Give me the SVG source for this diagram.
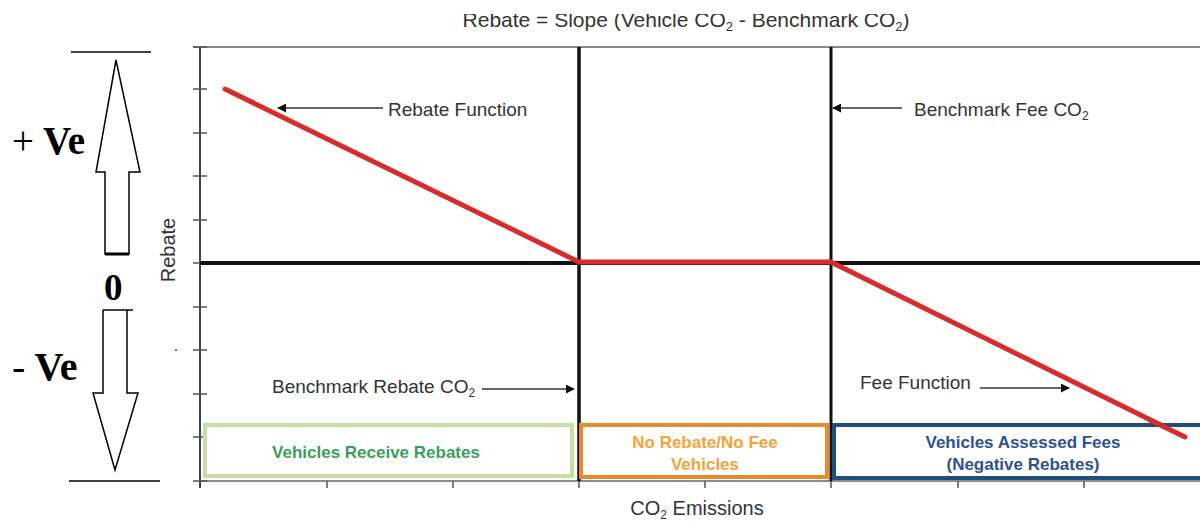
<svg xmlns="http://www.w3.org/2000/svg" width="1200" height="521" viewBox="0 0 1200 521">
<style>
.t{font-family:"Liberation Sans",Arial,sans-serif;fill:#333;font-size:19px}
.big{font-family:"Liberation Serif","Times New Roman",serif;font-weight:bold;font-size:39px;fill:#000}
.lbl{font-family:"Liberation Sans",Arial,sans-serif;font-weight:bold;font-size:17px;text-anchor:middle}
.sub{font-size:12px}
.ax{stroke:#444;stroke-width:2;fill:none}
.tk{stroke:#555;stroke-width:1.5}
.red{stroke:#d92b2b;stroke-width:5;fill:none;stroke-linecap:round}
.ptr{stroke:#333;stroke-width:1.3;fill:none;marker-end:url(#ah)}
</style>
<defs>
<marker id="ah" viewBox="0 0 10 10" refX="9" refY="5" markerWidth="9" markerHeight="9" markerUnits="userSpaceOnUse" orient="auto">
<path d="M0,0L10,5L0,10z" fill="#111"/>
</marker>
<clipPath id="topclip"><rect x="0" y="14" width="1200" height="30"/></clipPath>
</defs>
<rect width="1200" height="521" fill="#fff"/>

<g id="scale-indicator">
<line x1="71" y1="52" x2="151" y2="52" stroke="#000" stroke-width="1.5"/>
<path d="M116,60 L140,172 L129,172 L129,254 L105,254 L105,172 L96,172 Z" fill="#fff" stroke="#000" stroke-width="1.5" stroke-linejoin="miter"/>
<line x1="105" y1="254" x2="129" y2="254" stroke="#000" stroke-width="3"/>
<text x="12" y="154" class="big"><tspan font-weight="normal">+</tspan> Ve</text>
<text x="104" y="300" class="big" style="font-size:37px">0</text>
<path d="M103,310 L133,310 M127,310 L127,393 L138,393 L115,470 L93,393 L103,393 L103,310" fill="#fff" stroke="#000" stroke-width="1.5"/>
<line x1="69" y1="481" x2="160" y2="481" stroke="#000" stroke-width="1.5"/>
<text x="12" y="380" class="big" style="font-size:40px"><tspan font-weight="normal">-</tspan> Ve</text>
</g>

<g id="chart-axes">
<line x1="193" y1="47" x2="1200" y2="47" stroke="#888" stroke-width="2"/>
<line x1="200" y1="47" x2="200" y2="488" class="ax"/>
<line x1="200" y1="481" x2="1200" y2="481" stroke="#666" stroke-width="1.5"/>
<g class="tk">
<line x1="193" y1="47" x2="207" y2="47"/>
<line x1="193" y1="89" x2="207" y2="89"/>
<line x1="193" y1="133" x2="207" y2="133"/>
<line x1="193" y1="176" x2="207" y2="176"/>
<line x1="193" y1="220" x2="207" y2="220"/>
<line x1="193" y1="263" x2="207" y2="263"/>
<line x1="193" y1="307" x2="207" y2="307"/>
<line x1="193" y1="350" x2="207" y2="350"/>
<line x1="193" y1="394" x2="207" y2="394"/>
<line x1="193" y1="437" x2="207" y2="437"/>
<line x1="193" y1="481" x2="207" y2="481"/>
<line x1="327" y1="481" x2="327" y2="488"/>
<line x1="453" y1="481" x2="453" y2="488"/>
<line x1="579" y1="481" x2="579" y2="488"/>
<line x1="705" y1="481" x2="705" y2="488"/>
<line x1="831" y1="481" x2="831" y2="488"/>
<line x1="958" y1="481" x2="958" y2="488"/>
<line x1="1084" y1="481" x2="1084" y2="488"/>
</g>
<circle cx="176" cy="350" r="0.9" fill="#333"/>
<text class="t" transform="translate(175,250) rotate(-90)" text-anchor="middle" style="font-size:20px">Rebate</text>
<text class="t" x="697" y="515" text-anchor="middle" style="font-size:20px">CO<tspan class="sub" dy="4">2</tspan><tspan dy="-4"> Emissions</tspan></text>
<text class="t" x="686" y="27" text-anchor="middle" style="font-size:21px" clip-path="url(#topclip)">Rebate = Slope (Vehicle CO<tspan style="font-size:13px" dy="4">2</tspan><tspan dy="-4"> - Benchmark CO</tspan><tspan style="font-size:13px" dy="4">2</tspan><tspan dy="-4">)</tspan></text>
</g>

<g id="benchmark-lines">
<line x1="200" y1="263" x2="1200" y2="263" stroke="#111" stroke-width="4"/>
<line x1="579" y1="47" x2="579" y2="481" stroke="#111" stroke-width="3.5"/>
<line x1="831" y1="47" x2="831" y2="481" stroke="#111" stroke-width="3"/>
</g>

<g id="functions">
<polyline points="225,89 579,262 831,262 1185,437" class="red"/>
</g>

<g id="box-rebates">
<rect x="205" y="425" width="367" height="51" fill="#fff" stroke="#c6e0a4" stroke-width="4"/>
<text class="lbl" x="376" y="458" fill="#3a9e5a">Vehicles Receive Rebates</text>
</g>
<g id="box-neutral">
<rect x="581" y="425" width="246" height="52" fill="#fff" stroke="#e88a2c" stroke-width="4"/>
<text class="lbl" x="705" y="448" fill="#f5a334">No Rebate/No Fee</text>
<text class="lbl" x="705" y="470" fill="#f5a334">Vehicles</text>
</g>
<g id="box-fees">
<rect x="834" y="425" width="370" height="53" fill="#fff" stroke="#1f4e7c" stroke-width="4"/>
<text class="lbl" x="1023" y="448" fill="#2f5190">Vehicles Assessed Fees</text>
<text class="lbl" x="1023" y="470" fill="#2f5190">(Negative Rebates)</text>
</g>
<g id="fee-tail">
<line x1="1150" y1="420" x2="1185" y2="437" class="red"/>
</g>

<g id="connectors">
<line x1="383" y1="108" x2="278" y2="108" class="ptr"/>
<line x1="902" y1="108" x2="833" y2="108" class="ptr"/>
<line x1="482" y1="389" x2="574" y2="389" class="ptr"/>
<line x1="980" y1="388" x2="1069" y2="388" class="ptr"/>
</g>

<g id="labels">
<text class="t" x="388" y="116">Rebate Function</text>
<text class="t" x="914" y="116">Benchmark Fee CO<tspan class="sub" dy="4">2</tspan></text>
<text class="t" x="272" y="393">Benchmark Rebate CO<tspan class="sub" dy="4">2</tspan></text>
<text class="t" x="860" y="389">Fee Function</text>
</g>
</svg>
